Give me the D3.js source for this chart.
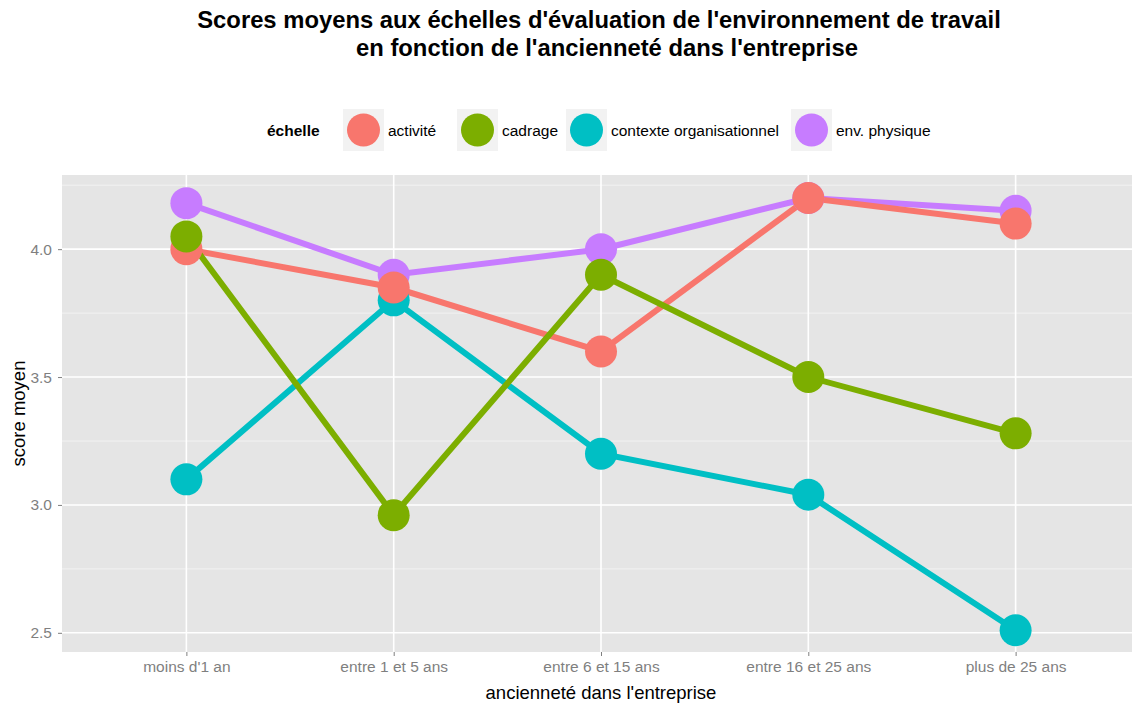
<!DOCTYPE html>
<html>
<head>
<meta charset="utf-8">
<script src="https://cdn.jsdelivr.net/npm/d3@7"></script>
<style>
  html, body { margin: 0; padding: 0; background: #fff; }
  svg { display: block; font-family: "Liberation Sans", Arial, sans-serif; }
</style>
</head>
<body>
<svg id="chart" width="1132" height="705"></svg>
<script>
// Seniority groups (x axis)
const categories = ["moins d'1 an", "entre 1 et 5 ans", "entre 6 et 15 ans", "entre 16 et 25 ans", "plus de 25 ans"];

// Mean score per scale, one value per seniority group
const activite = [4.00, 3.85, 3.60, 4.20, 4.10];
const cadrage = [4.05, 2.96, 3.90, 3.50, 3.28];
const contexte = [3.10, 3.80, 3.20, 3.04, 2.51];
const envPhysique = [4.18, 3.90, 4.00, 4.20, 4.15];

const seriesNames = ["activité", "cadrage", "contexte organisationnel", "env. physique"];
const seriesValues = [activite, cadrage, contexte, envPhysique];
const seriesColors = ["#F8766D", "#7CAE00", "#00BFC4", "#C77CFF"];

const yTicks = [2.5, 3.0, 3.5, 4.0];
const yMinor = [2.75, 3.25, 3.75, 4.25];

const series = seriesNames.map((name, i) => ({
  name, color: seriesColors[i],
  points: seriesValues[i].map((v, j) => ({ cat: categories[j], value: v }))
}));

const svg = d3.select("#chart");

// Plot panel
const panel = { left: 62, right: 1140, top: 175, bottom: 652 };
const step = (panel.right - panel.left) / (categories.length - 1 + 1.2);
const x = d3.scalePoint()
  .domain(categories)
  .range([panel.left + 0.6 * step, panel.right - 0.6 * step]);
const y = d3.scaleLinear()
  .domain([2.425, 4.29])
  .range([panel.bottom, panel.top]);

svg.append("rect")
  .attr("x", panel.left).attr("y", panel.top)
  .attr("width", panel.right - panel.left).attr("height", panel.bottom - panel.top)
  .attr("fill", "#E5E5E5");

// Grid lines
const grid = svg.append("g");
grid.selectAll("line.minor").data(yMinor).join("line")
  .attr("x1", panel.left).attr("x2", panel.right)
  .attr("y1", d => y(d)).attr("y2", d => y(d))
  .attr("stroke", "#F2F2F2").attr("stroke-width", 1);
grid.selectAll("line.majory").data(yTicks).join("line")
  .attr("x1", panel.left).attr("x2", panel.right)
  .attr("y1", d => y(d)).attr("y2", d => y(d))
  .attr("stroke", "#FFFFFF").attr("stroke-width", 1.6);
grid.selectAll("line.majorx").data(categories).join("line")
  .attr("x1", d => x(d)).attr("x2", d => x(d))
  .attr("y1", panel.top).attr("y2", panel.bottom)
  .attr("stroke", "#FFFFFF").attr("stroke-width", 1.6);

// Axes
const xAxis = svg.append("g")
  .attr("transform", `translate(0,${panel.bottom})`)
  .call(d3.axisBottom(x).tickSize(4).tickPadding(5));
const yAxis = svg.append("g")
  .attr("transform", `translate(${panel.left},0)`)
  .call(d3.axisLeft(y).tickValues(yTicks).tickFormat(d3.format(".1f")).tickSize(4).tickPadding(6));
[xAxis, yAxis].forEach(a => {
  a.select(".domain").remove();
  a.selectAll(".tick line").attr("stroke", "#7F7F7F").attr("stroke-width", 1);
  a.selectAll(".tick text")
    .attr("fill", "#7F7F7F")
    .style("font-family", "'Liberation Sans', Arial, sans-serif")
    .style("font-size", "15.5px");
});

// Lines then points
const line = d3.line().x(d => x(d.cat)).y(d => y(d.value));
const lineOrder = [2, 3, 0, 1];
svg.append("g").selectAll("path").data(lineOrder.map(i => series[i])).join("path")
  .attr("d", d => line(d.points))
  .attr("fill", "none")
  .attr("stroke", d => d.color)
  .attr("stroke-width", 6);

const pointOrder = [2, 3, 0, 1];
const pts = svg.append("g");
pointOrder.forEach(i => {
  pts.selectAll(null).data(series[i].points).join("circle")
    .attr("cx", d => x(d.cat)).attr("cy", d => y(d.value))
    .attr("r", 16).attr("fill", series[i].color);
});

// Axis titles
svg.append("text")
  .attr("x", (panel.left + panel.right) / 2).attr("y", 699)
  .attr("text-anchor", "middle").attr("font-size", 18.5).attr("fill", "#000")
  .text("ancienneté dans l'entreprise");
svg.append("text")
  .attr("transform", `translate(25,${(panel.top + panel.bottom) / 2}) rotate(-90)`)
  .attr("text-anchor", "middle").attr("font-size", 18.5).attr("fill", "#000")
  .text("score moyen");

// Title
const title = svg.append("text")
  .attr("text-anchor", "middle").attr("font-size", 23.8).attr("font-weight", "bold").attr("fill", "#000");
title.append("tspan").attr("x", 599).attr("y", 28)
  .text("Scores moyens aux échelles d'évaluation de l'environnement de travail");
title.append("tspan").attr("x", 607).attr("y", 56)
  .text("en fonction de l'ancienneté dans l'entreprise");

// Legend
const legend = svg.append("g");
legend.append("text")
  .attr("x", 267).attr("y", 136)
  .attr("font-size", 15.5).attr("font-weight", "bold").attr("fill", "#000")
  .text("échelle");
const keyX = [343, 457, 566, 791];
series.forEach((s, i) => {
  const g = legend.append("g").attr("transform", `translate(${keyX[i]},109)`);
  g.append("rect").attr("width", 41).attr("height", 42).attr("fill", "#F2F2F2");
  g.append("circle").attr("cx", 20.5).attr("cy", 21).attr("r", 16.5).attr("fill", s.color);
  g.append("text").attr("x", 45).attr("y", 27)
    .attr("font-size", 15.5).attr("fill", "#000").text(s.name);
});
</script>
</body>
</html>
